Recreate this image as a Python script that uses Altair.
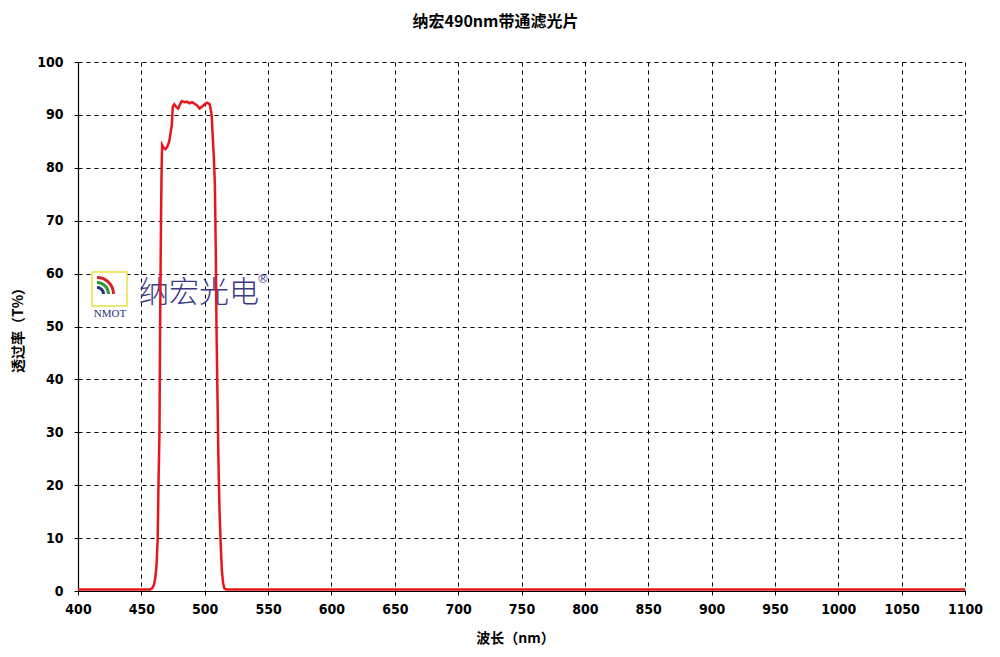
import altair as alt
import pandas as pd

wavelength = [400, 457, 458.5, 460, 461, 462, 462.9, 463.5, 464.3, 464.8, 465.5, 466, 466.4,
              467.5, 469, 470.5, 472, 473, 474, 474.8, 476, 477.5, 479, 480.5, 482, 484,
              486, 488, 490, 492, 494, 496, 498, 500, 502, 504, 505.5, 506.3, 507.2, 508,
              508.7, 509.3, 510, 510.8, 511.7, 512.6, 513.5, 514.5, 515.5, 517, 1100]
transmission = [0.3, 0.3, 0.5, 1.2, 2.5, 5, 10, 20, 30, 50, 70, 80, 84.3,
                83.8, 83.5, 84, 85, 86.5, 88, 91.5, 92, 91.5, 91.2, 92, 92.6, 92.4,
                92.5, 92.2, 92.4, 92.1, 91.8, 91.2, 91.6, 92, 92.3, 92, 90, 86, 82, 77,
                65, 50, 38, 25, 15, 9, 4, 1.5, 0.5, 0.3, 0.3]

x_ticks = list(range(400, 1101, 50))
y_ticks = list(range(0, 101, 10))

title_text = "纳宏490nm带通滤光片"
x_title = "波长（nm）"
y_title = "透过率（T%）"

df = pd.DataFrame({"wl": wavelength, "t": transmission})

W, H = 887, 529

line = alt.Chart(df).mark_line(color="#e8161b", strokeWidth=2.5, clip=True).encode(
    x=alt.X("wl:Q", scale=alt.Scale(domain=[400, 1100], nice=False, zero=False),
            axis=alt.Axis(values=x_ticks, title=x_title, titleX=437, titleY=47,
                          titleBaseline="middle", titleAlign="center",
                          labelPadding=7, labelFlush=False, format="d")),
    y=alt.Y("t:Q", scale=alt.Scale(domain=[0, 100], nice=False),
            axis=alt.Axis(values=y_ticks, title=y_title, titleX=-60, titleY=H / 2,
                          titleAngle=270, titleBaseline="middle", titleAlign="center",
                          labelPadding=11, labelFlush=False, format="d")),
)

# logo decoration
logo_box = alt.Chart(pd.DataFrame({"a": [0]})).mark_rect(
    fill="white", stroke="#e8e040", strokeWidth=1.5
).encode(x=alt.value(14), x2=alt.value(49), y=alt.value(210), y2=alt.value(244))

arcs_df = pd.DataFrame({"r": [18, 13, 8], "c": ["#d9202a", "#2e9a3a", "#2a2f7a"]})
logo_arcs = alt.Chart(arcs_df).mark_arc(theta=0, theta2=1.5708).encode(
    x=alt.value(19), y=alt.value(232),
    radius=alt.Radius("r:Q", scale=None),
    radius2=alt.Radius2("r2:Q"),
    color=alt.Color("c:N", scale=None),
).transform_calculate(r2="datum.r - 3")

logo_name = alt.Chart(pd.DataFrame({"s": ["纳宏光电"]})).mark_text(
    font="Noto Sans CJK SC", fontSize=30, fontWeight=300, color="#3b3b86"
).encode(x=alt.value(121), y=alt.value(231), text="s:N")
logo_reg = alt.Chart(pd.DataFrame({"s": ["®"]})).mark_text(
    font="DejaVu Sans", fontSize=12, color="#3b3b86"
).encode(x=alt.value(185), y=alt.value(217), text="s:N")
logo_nmot = alt.Chart(pd.DataFrame({"s": ["NMOT"]})).mark_text(
    font="Liberation Serif", fontSize=11, color="#2a2f7a"
).encode(x=alt.value(32), y=alt.value(252), text="s:N")

chart = alt.layer(logo_box, logo_arcs, logo_name, logo_reg, logo_nmot, line).properties(
    width=W, height=H,
    title=alt.TitleParams(title_text, anchor="middle", dx=-26, offset=25,
                          font="Noto Sans CJK SC", fontSize=16, fontWeight="bold",
                          color="black"),
    autosize=alt.AutoSizeParams(type="none"),
    padding={"left": 70, "top": 54, "right": 27, "bottom": 62},
    background="white",
).configure_view(stroke=None).configure_axis(
    grid=True, gridColor="black", gridDash=[4, 4], gridOpacity=1, gridWidth=1,
    domainColor="black", domainWidth=1.2, tickColor="black", tickSize=4,
    labelFont="DejaVu Sans Condensed", labelFontSize=14, labelFontWeight="bold",
    labelColor="black",
    titleFont="Noto Sans CJK SC", titleFontSize=14, titleFontWeight="bold",
    titleColor="black",
)

chart.save("out.html", embed_options={"renderer": "svg", "actions": False})
